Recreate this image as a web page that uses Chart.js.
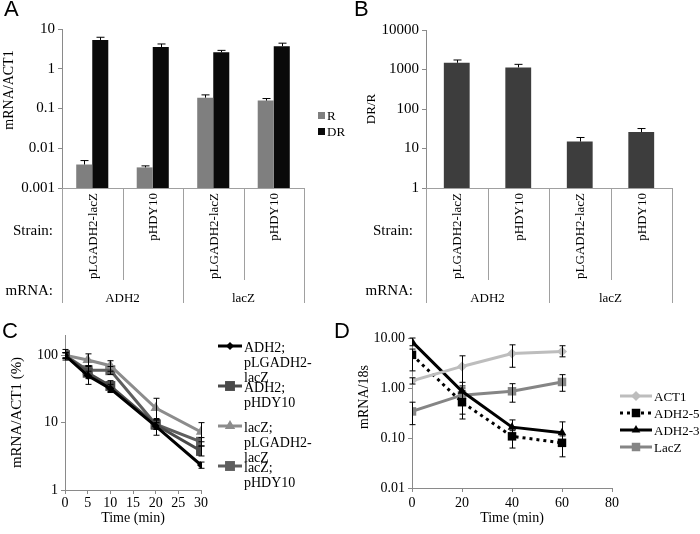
<!DOCTYPE html>
<html>
<head>
<meta charset="utf-8">
<script src="https://cdn.jsdelivr.net/npm/chart.js@4.4.1/dist/chart.umd.min.js"></script>
<style>
  body { margin: 0; background: #fff; }
  #wrap { position: relative; width: 700px; height: 534px; overflow: hidden; }
  canvas { position: absolute; }
</style>
</head>
<body>
<div id="wrap">
  <canvas id="chartA" width="350" height="310" style="left:0;top:0"></canvas>
  <canvas id="chartB" width="350" height="310" style="left:350px;top:0"></canvas>
  <canvas id="chartC" width="330" height="224" style="left:0;top:310px"></canvas>
  <canvas id="chartD" width="370" height="224" style="left:330px;top:310px"></canvas>
</div>
<script>
// --- data ---
const strains = ['pLGADH2-lacZ', 'pHDY10', 'pLGADH2-lacZ', 'pHDY10'];
const mrnaGroups = ['ADH2', 'lacZ'];

const aRepressed = [0.0039, 0.0033, 0.187, 0.158];
const aRepressedErr = [0.0049, 0.0036, 0.22, 0.178];
const aDerepressed = [5.3, 3.5, 2.6, 3.7];
const aDerepressedErr = [6.2, 4.2, 2.9, 4.4];
const aTicks = [0.001, 0.01, 0.1, 1, 10];

const bRatio = [1480, 1130, 15, 26];
const bRatioErr = [1740, 1350, 19, 32];
const bTicks = [1, 10, 100, 1000, 10000];

const cTimes = [0, 5, 10, 20, 30];
const cAdh2Plg = [100, 50, 32, 8.9, 2.35];
const cAdh2PlgHi = [110, 58, 37, 10, 2.6];
const cAdh2PlgLo = [90, 45, 29, 8, 2.1];
const cAdh2Phd = [100, 55, 35, 9.3, 3.8];
const cAdh2PhdHi = [122, 70, 42, 11, 4.5];
const cAdh2PhdLo = [85, 37, 28, 6.5, 3.2];
const cLacPlg = [100, 85, 70, 16.5, 7.3];
const cLacPlgHi = [108, 105, 83, 23, 10];
const cLacPlgLo = [92, 68, 58, 11.5, 5.2];
const cLacPhd = [100, 60, 60, 9.5, 5.2];
const cLacPhdHi = [110, 70, 68, 11, 6];
const cLacPhdLo = [90, 50, 52, 8, 4.5];
const cLegend = [['ADH2;', 'pLGADH2-', 'lacZ'], ['ADH2;', 'pHDY10'], ['lacZ;', 'pLGADH2-', 'lacZ'], ['lacZ;', 'pHDY10']];
const cTicks = [1, 10, 100];
const cTimeTicks = [0, 5, 10, 15, 20, 25, 30];

const dTimes = [0, 20, 40, 60];
const dAct1 = [1.4, 2.7, 4.9, 5.4];
const dAct1Hi = [1.6, 4.4, 7.3, 7.0];
const dAct1Lo = [1.2, 1.0, 2.6, 4.2];
const dAdh5 = [4.6, 0.52, 0.108, 0.08];
const dAdh5Hi = [6.0, 0.9, 0.14, 0.11];
const dAdh5Lo = [2.2, 0.24, 0.063, 0.042];
const dAdh3 = [8.5, 0.86, 0.165, 0.127];
const dAdh3Hi = [10, 1.3, 0.23, 0.21];
const dAdh3Lo = [7, 0.55, 0.12, 0.09];
const dLacZ = [0.34, 0.72, 0.86, 1.32];
const dLacZHi = [0.52, 1.1, 1.22, 1.85];
const dLacZLo = [0.185, 0.3, 0.52, 0.86];
const dTicks = [0.01, 0.1, 1, 10];

const serif = '"Liberation Serif", "Times New Roman", serif';
const sans = '"Liberation Sans", Arial, sans-serif';
const axisGray = '#8a8a8a';

Chart.defaults.font.family = serif;
Chart.defaults.color = '#000';
Chart.defaults.animation = false;

// error bars drawn from the dataset's own scale
const errorBars = {
    id: 'errorBars',
    afterDatasetsDraw(chart) {
        const ctx = chart.ctx;
        chart.data.datasets.forEach((ds, di) => {
            if (!ds.errHigh) return;
            const meta = chart.getDatasetMeta(di);
            const yScale = chart.scales[meta.yAxisID];
            const cap = ds.errCap || 3;
            ctx.save();
            ctx.strokeStyle = '#000';
            ctx.lineWidth = 1;
            meta.data.forEach((el, i) => {
                if (ds.errHigh[i] == null) return;
                const x = Math.round(el.x) + 0.5;
                const yTop = yScale.getPixelForValue(ds.errHigh[i]);
                const yBot = ds.errLow ? yScale.getPixelForValue(ds.errLow[i]) : el.y;
                ctx.beginPath();
                ctx.moveTo(x, yTop);
                ctx.lineTo(x, yBot);
                ctx.moveTo(x - cap, yTop);
                ctx.lineTo(x + cap, yTop);
                if (ds.errLow) {
                    ctx.moveTo(x - cap, yBot);
                    ctx.lineTo(x + cap, yBot);
                }
                ctx.stroke();
            });
            ctx.restore();
        });
    }
};

// strain / mRNA table under the bar charts
const strainTable = {
    id: 'strainTable',
    afterDraw(chart, args, opts) {
        const { ctx, chartArea: area } = chart;
        const x = chart.scales.x;
        const step = (area.right - area.left) / strains.length;
        ctx.save();
        ctx.strokeStyle = '#a0a0a0';
        ctx.lineWidth = 1;
        ctx.beginPath();
        ctx.moveTo(area.left, Math.round(area.bottom) + 0.5);
        ctx.lineTo(area.right, Math.round(area.bottom) + 0.5);
        for (let i = 0; i <= strains.length; i++) {
            const px = Math.round(area.left + i * step) + 0.5;
            ctx.moveTo(px, area.bottom);
            ctx.lineTo(px, i % 2 === 0 ? 303 : 280);
        }
        ctx.stroke();

        ctx.fillStyle = '#000';
        ctx.textBaseline = 'middle';
        ctx.font = '13px ' + serif;
        strains.forEach((s, i) => {
            ctx.save();
            ctx.translate(x.getPixelForValue(i) + 1, 193);
            ctx.rotate(-Math.PI / 2);
            ctx.textAlign = 'right';
            ctx.fillText(s, 0, 0);
            ctx.restore();
        });
        ctx.textAlign = 'center';
        mrnaGroups.forEach((g, i) => {
            ctx.fillText(g, x.getPixelForValue(2 * i + 0.5), 299);
        });
        ctx.font = '15px ' + serif;
        ctx.textAlign = 'right';
        ctx.fillText('Strain:', opts.textRight, 231);
        ctx.fillText('mRNA:', opts.textRight, 291);
        ctx.restore();
    }
};

// free texts: panel letters, titles
const notes = {
    id: 'notes',
    afterDraw(chart, args, opts) {
        const ctx = chart.ctx;
        (opts.items || []).forEach(n => {
            ctx.save();
            ctx.fillStyle = '#000';
            ctx.font = n.font;
            ctx.textAlign = n.align || 'left';
            ctx.textBaseline = 'middle';
            ctx.translate(n.x, n.y);
            if (n.rotate) ctx.rotate(n.rotate);
            ctx.fillText(n.text, 0, 0);
            ctx.restore();
        });
    }
};

// legend drawn beside the plot
const sideLegend = {
    id: 'sideLegend',
    afterDraw(chart, args, opts) {
        const ctx = chart.ctx;
        ctx.save();
        ctx.font = opts.font;
        ctx.textBaseline = 'middle';
        ctx.textAlign = 'left';
        chart.data.datasets.forEach((ds, i) => {
            const y = opts.y + i * opts.gap;
            if (opts.box) {
                ctx.fillStyle = ds.backgroundColor;
                ctx.fillRect(opts.x, y - 4, 7, 7);
                ctx.fillStyle = '#000';
                ctx.fillText(ds.label, opts.x + 9, y + 1);
                return;
            }
            ctx.strokeStyle = ds.borderColor;
            ctx.lineWidth = ds.borderWidth;
            ctx.setLineDash(ds.borderDash || []);
            ctx.beginPath();
            ctx.moveTo(opts.x, y);
            ctx.lineTo(opts.x + opts.lineLen, y);
            ctx.stroke();
            ctx.setLineDash([]);
            ctx.fillStyle = ds.backgroundColor;
            Chart.helpers.drawPoint(ctx, { pointStyle: ds.pointStyle, radius: ds.pointRadius, rotation: 0, borderWidth: 0 }, opts.x + opts.lineLen / 2, y);
            ctx.fillStyle = '#000';
            const lines = ds.legendLines || [ds.label];
            lines.forEach((t, k) => ctx.fillText(t, opts.x + opts.lineLen + 2, y + 2 + k * opts.lineHeight));
        });
        ctx.restore();
    }
};

function logAxis(ticks, width, size, fmt) {
    return {
        type: 'logarithmic',
        min: ticks[0],
        max: ticks[ticks.length - 1],
        afterBuildTicks: s => { s.ticks = ticks.map(v => ({ value: v })); },
        afterFit: s => { s.width = width; },
        border: { color: axisGray },
        grid: { drawOnChartArea: false, tickLength: 4, color: axisGray },
        ticks: { font: { size: size }, padding: 3, callback: fmt }
    };
}

function timeAxis(max, step, height, pad) {
    return {
        type: 'linear',
        min: 0,
        max: max,
        afterFit: s => { s.height = height; },
        border: { color: axisGray },
        grid: { drawOnChartArea: false, tickLength: 4, color: axisGray },
        ticks: { stepSize: step, font: { size: 14 }, padding: pad, maxRotation: 0 },
        title: { display: true, text: 'Time (min)', font: { size: 14 }, padding: { top: 0, bottom: 7 } }
    };
}

function lineSeries(label, times, values, hi, lo, color, style, radius, extra) {
    return Object.assign({
        label: label,
        data: times.map((t, i) => ({ x: t, y: values[i] })),
        errHigh: hi,
        errLow: lo,
        errCap: 3,
        borderColor: color,
        backgroundColor: color,
        borderWidth: 3,
        pointStyle: style,
        pointRadius: radius,
        pointBorderWidth: 0,
        pointBackgroundColor: color,
        tension: 0
    }, extra || {});
}

// ---------- A ----------
new Chart(document.getElementById('chartA'), {
    type: 'bar',
    data: {
        labels: strains,
        datasets: [
            { label: 'R', data: aRepressed, errHigh: aRepressedErr, errCap: 4, backgroundColor: '#7f7f7f', categoryPercentage: 0.53, barPercentage: 1 },
            { label: 'DR', data: aDerepressed, errHigh: aDerepressedErr, errCap: 4, backgroundColor: '#0a0a0a', categoryPercentage: 0.53, barPercentage: 1 }
        ]
    },
    options: {
        responsive: false,
        layout: { padding: { left: 0, right: 46, top: 29, bottom: 122 } },
        scales: {
            x: { display: false },
            y: logAxis(aTicks, 62, 15, v => String(v))
        },
        plugins: {
            legend: { display: false },
            tooltip: { enabled: false },
            strainTable: { textRight: 53 },
            sideLegend: { box: true, x: 318, y: 116, gap: 16, font: '13px ' + serif },
            notes: { items: [
                { text: 'A', x: 4, y: 10, font: '22px ' + sans },
                { text: 'mRNA/ACT1', x: 9, y: 90, font: '14px ' + serif, align: 'center', rotate: -Math.PI / 2 }
            ] }
        }
    },
    plugins: [errorBars, strainTable, sideLegend, notes]
});

// ---------- B ----------
new Chart(document.getElementById('chartB'), {
    type: 'bar',
    data: {
        labels: strains,
        datasets: [
            { label: 'DR/R', data: bRatio, errHigh: bRatioErr, errCap: 4, backgroundColor: '#3d3d3d', categoryPercentage: 1, barPercentage: 0.42 }
        ]
    },
    options: {
        responsive: false,
        layout: { padding: { left: 0, right: 28, top: 30, bottom: 122 } },
        scales: {
            x: { display: false },
            y: Object.assign(logAxis(bTicks, 76, 15, v => String(v)), {
                title: { display: true, text: 'DR/R', font: { size: 13 }, padding: { top: 14, bottom: 0 } }
            })
        },
        plugins: {
            legend: { display: false },
            tooltip: { enabled: false },
            strainTable: { textRight: 63 },
            notes: { items: [
                { text: 'B', x: 4, y: 10, font: '22px ' + sans }
            ] }
        }
    },
    plugins: [errorBars, strainTable, notes]
});

// ---------- C ----------
new Chart(document.getElementById('chartC'), {
    type: 'line',
    data: {
        datasets: [
            lineSeries('ADH2; pLGADH2-lacZ', cTimes, cAdh2Plg, cAdh2PlgHi, cAdh2PlgLo, '#000000', 'rectRot', 4, { legendLines: cLegend[0] }),
            lineSeries('ADH2; pHDY10', cTimes, cAdh2Phd, cAdh2PhdHi, cAdh2PhdLo, '#4a4a4a', 'rect', 7, { legendLines: cLegend[1] }),
            lineSeries('lacZ; pLGADH2-lacZ', cTimes, cLacPlg, cLacPlgHi, cLacPlgLo, '#8c8c8c', 'triangle', 6, { legendLines: cLegend[2] }),
            lineSeries('lacZ; pHDY10', cTimes, cLacPhd, cLacPhdHi, cLacPhdLo, '#5e5e5e', 'rect', 7, { legendLines: cLegend[3] })
        ]
    },
    options: {
        responsive: false,
        layout: { padding: { left: 0, right: 129, top: 25, bottom: 0 } },
        scales: {
            x: Object.assign(timeAxis(30, 5, 44, 1), { afterBuildTicks: s => { s.ticks = cTimeTicks.map(v => ({ value: v })); } }),
            y: Object.assign(logAxis([1, 200], 65, 14, v => String(v)), {
                afterBuildTicks: s => { s.ticks = cTicks.map(v => ({ value: v })); },
                title: { display: true, text: 'mRNA/ACT1 (%)', font: { size: 15 }, padding: { top: 8, bottom: 0 } }
            })
        },
        plugins: {
            legend: { display: false },
            tooltip: { enabled: false },
            sideLegend: { x: 218, y: 36, gap: 40, lineLen: 24, lineHeight: 15, font: '14px ' + serif },
            notes: { items: [
                { text: 'C', x: 2, y: 22, font: '22px ' + sans }
            ] }
        }
    },
    plugins: [errorBars, sideLegend, notes]
});

// ---------- D ----------
new Chart(document.getElementById('chartD'), {
    type: 'line',
    data: {
        datasets: [
            lineSeries('ACT1', dTimes, dAct1, dAct1Hi, dAct1Lo, '#bdbdbd', 'rectRot', 5),
            lineSeries("ADH2-5'", dTimes, dAdh5, dAdh5Hi, dAdh5Lo, '#000000', 'rect', 6, { borderDash: [3, 4] }),
            lineSeries("ADH2-3'", dTimes, dAdh3, dAdh3Hi, dAdh3Lo, '#000000', 'triangle', 5),
            lineSeries('LacZ', dTimes, dLacZ, dLacZHi, dLacZLo, '#858585', 'rect', 6)
        ]
    },
    options: {
        responsive: false,
        layout: { padding: { left: 0, right: 88, top: 28, bottom: 0 } },
        scales: {
            x: timeAxis(80, 20, 46, 3),
            y: logAxis(dTicks, 82, 14, v => v.toFixed(2))
        },
        plugins: {
            legend: { display: false },
            tooltip: { enabled: false },
            sideLegend: { x: 290, y: 86, gap: 17, lineLen: 32, lineHeight: 15, font: '13px ' + serif },
            notes: { items: [
                { text: 'D', x: 4, y: 22, font: '22px ' + sans },
                { text: 'mRNA/18s', x: 34, y: 87, font: '14px ' + serif, align: 'center', rotate: -Math.PI / 2 }
            ] }
        }
    },
    plugins: [errorBars, sideLegend, notes]
});
</script>
</body>
</html>
